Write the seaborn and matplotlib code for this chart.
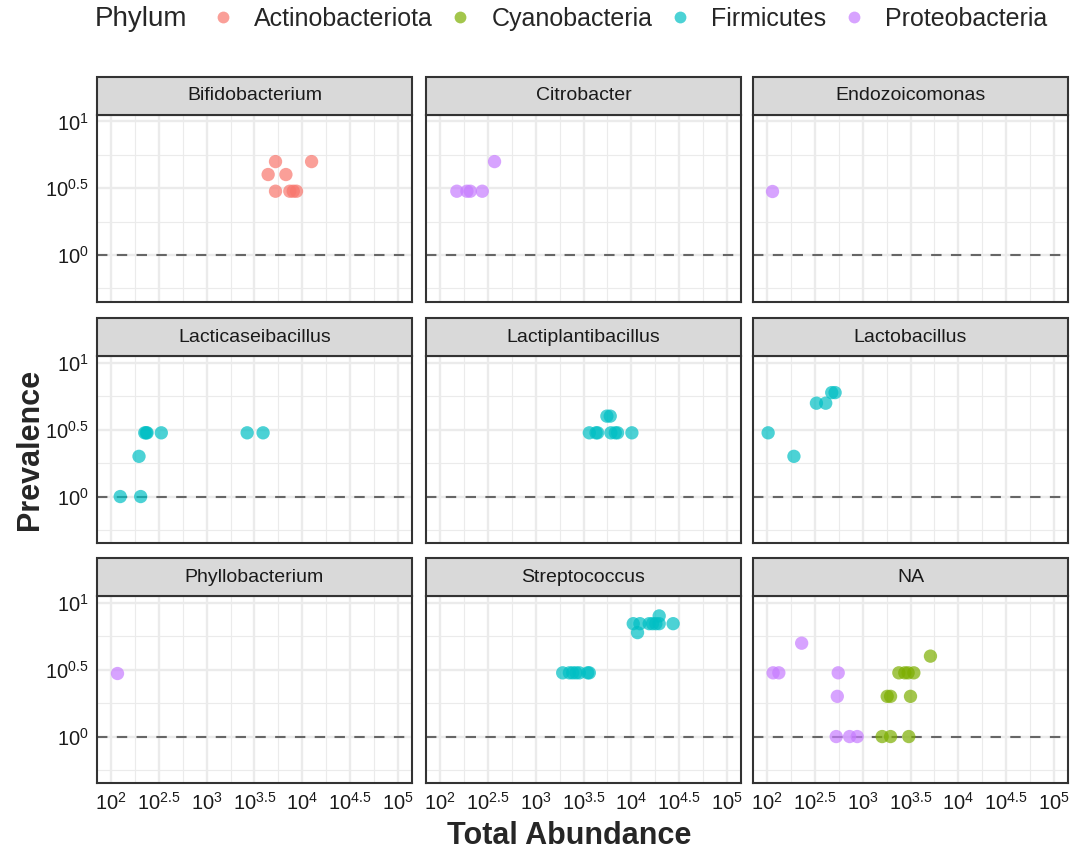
import numpy as np
import pandas as pd
import matplotlib
matplotlib.use('Agg')
import matplotlib.pyplot as plt
from matplotlib.patches import Rectangle
from matplotlib.lines import Line2D
import seaborn as sns

# panel order and phylum colours (ggplot hue defaults)
genera = ['Bifidobacterium', 'Citrobacter', 'Endozoicomonas',
          'Lacticaseibacillus', 'Lactiplantibacillus', 'Lactobacillus',
          'Phyllobacterium', 'Streptococcus', 'NA']
phyla = ['Actinobacteriota', 'Cyanobacteria', 'Firmicutes', 'Proteobacteria']
phylum_colors = ['#F8766D', '#7CAE00', '#00BFC4', '#C77CFF']

# one entry per taxon
genus = (['Bifidobacterium'] * 8 + ['Citrobacter'] * 5 + ['Endozoicomonas']
         + ['Lacticaseibacillus'] * 9 + ['Lactiplantibacillus'] * 9
         + ['Lactobacillus'] * 6 + ['Phyllobacterium'] + ['Streptococcus'] * 16
         + ['NA'] * 19)
phylum = (['Actinobacteriota'] * 8 + ['Proteobacteria'] * 6
          + ['Firmicutes'] * 24 + ['Proteobacteria'] + ['Firmicutes'] * 16
          + ['Proteobacteria'] * 8 + ['Cyanobacteria'] * 11)
abundance = [
    # Bifidobacterium
    5250, 12530, 4395, 6745, 5250, 7413, 8054, 8710,
    # Citrobacter
    370, 149, 190, 206, 275,
    # Endozoicomonas
    113,
    # Lacticaseibacillus
    124, 203, 195, 224, 232, 237, 334, 2649, 3890,
    # Lactiplantibacillus
    5560, 6026, 3639, 4276, 4446, 6124, 6808, 7194, 10160,
    # Lactobacillus
    102, 190, 327, 409, 473, 513,
    # Phyllobacterium
    115,
    # Streptococcus
    1914, 2249, 2438, 2642, 2858, 3499, 3639,
    10500, 12330, 15420, 16710, 18110, 19630, 27480, 19630, 11640,
    # NA - Proteobacteria
    229, 115, 132, 553, 541, 527, 728, 875,
    # NA - Cyanobacteria
    5117, 2388, 2754, 2985, 3428, 1803, 1954, 3162, 1596, 1954, 3034,
]
prevalence = [
    5, 5, 4, 4, 3, 3, 3, 3,
    5, 3, 3, 3, 3,
    3,
    1, 1, 2, 3, 3, 3, 3, 3, 3,
    4, 4, 3, 3, 3, 3, 3, 3, 3,
    3, 2, 5, 5, 6, 6,
    3,
    3, 3, 3, 3, 3, 3, 3,
    7, 7, 7, 7, 7, 7, 7, 8, 6,
    5, 3, 3, 3, 2, 1, 1, 1,
    4, 3, 3, 3, 3, 2, 2, 2, 1, 1, 1,
]

x_exp = [2, 2.5, 3, 3.5, 4, 4.5, 5]
y_exp = [0, 0.5, 1]

df = pd.DataFrame({'Genus': genus, 'Phylum': phylum,
                   'Abundance': abundance, 'Prevalence': prevalence})

sns.set_theme(style='white')
plt.rcParams['font.family'] = ['Liberation Sans', 'DejaVu Sans']
plt.rcParams['mathtext.fontset'] = 'custom'
plt.rcParams['mathtext.rm'] = 'Liberation Sans'
plt.rcParams['mathtext.it'] = 'Liberation Sans:italic'
plt.rcParams['mathtext.bf'] = 'Liberation Sans:bold'

W, H = 1074, 856
fig = plt.figure(figsize=(W / 100, H / 100), dpi=100)

col_left = [97, 426, 753]
row_bottom = [301.7, 543.3, 783.3]
pw, ph = 315, 187
strip_h = 38 / ph

palette = dict(zip(phyla, phylum_colors))
grid_col = '#EBEBEB'
dark = '#333333'

for i, g in enumerate(genera):
    r, c = divmod(i, 3)
    ax = fig.add_axes([col_left[c] / W, (H - row_bottom[r]) / H, pw / W, ph / H])
    sub = df[df['Genus'] == g]
    sns.scatterplot(data=sub, x='Abundance', y='Prevalence', hue='Phylum',
                    hue_order=phyla, palette=palette, s=92, alpha=0.7,
                    linewidth=0, legend=False, ax=ax, zorder=3)
    ax.set_xscale('log')
    ax.set_yscale('log')
    ax.set_xlim(10 ** 1.85, 10 ** 5.15)
    ax.set_ylim(10 ** -0.35, 10 ** 1.05)
    ax.set_xticks([10 ** e for e in x_exp])
    ax.set_xticks([10 ** (e + 0.25) for e in x_exp[:-1]], minor=True)
    ax.set_yticks([10 ** e for e in y_exp])
    ax.set_yticks([10 ** e for e in [-0.25, 0.25, 0.75]], minor=True)
    ax.set_xticklabels([r'$\mathregular{10^{%g}}$' % e for e in x_exp])
    ax.set_yticklabels([r'$\mathregular{10^{%g}}$' % e for e in y_exp])
    ax.grid(which='major', color=grid_col, lw=1.7)
    ax.grid(which='minor', color=grid_col, lw=0.85)
    ax.set_axisbelow(True)
    ax.axhline(1, color='#666666', lw=1.5, ls=(0, (5, 4.5)), zorder=2)
    ax.set_xlabel('')
    ax.set_ylabel('')
    for sp in ax.spines.values():
        sp.set_color(dark)
        sp.set_linewidth(1.5)
    ax.tick_params(which='minor', length=0)
    ax.tick_params(which='major', length=4, width=1.2, color=dark,
                   labelsize=14.5, labelcolor='#1A1A1A', pad=2)
    if c != 0:
        ax.tick_params(axis='y', length=0, labelleft=False)
    if r != 2:
        ax.tick_params(axis='x', length=0, labelbottom=False)
    # facet strip
    ax.add_patch(Rectangle((0, 1), 1, strip_h, transform=ax.transAxes,
                           facecolor='#D9D9D9', edgecolor=dark, lw=1.5,
                           clip_on=False, zorder=5))
    ax.text(0.5, 1 + strip_h / 2, g, transform=ax.transAxes, ha='center',
            va='center', fontsize=14, color='#1A1A1A', zorder=6)

fig.text(569 / W, 1 - 836 / H, 'Total Abundance', ha='center', va='center',
         fontsize=22, fontweight='bold')
fig.text(30 / W, 1 - 449 / H, 'Prevalence', ha='center', va='center',
         rotation=90, fontsize=22, fontweight='bold')

# legend across the top
fig.text(95 / W, 1 - 19 / H, 'Phylum', ha='left', va='center', fontsize=20)
handles = [Line2D([], [], ls='', marker='o', markersize=8.5, markeredgewidth=0,
                  color=col, alpha=0.7) for col in phylum_colors]
fig.legend(handles, phyla, loc='center left', bbox_to_anchor=(210 / W, 1 - 19 / H),
           ncol=4, frameon=False, fontsize=18, handlelength=1.0,
           handletextpad=0.75, columnspacing=0.6, borderaxespad=0, borderpad=0)

fig.savefig('out.png', dpi=100)
